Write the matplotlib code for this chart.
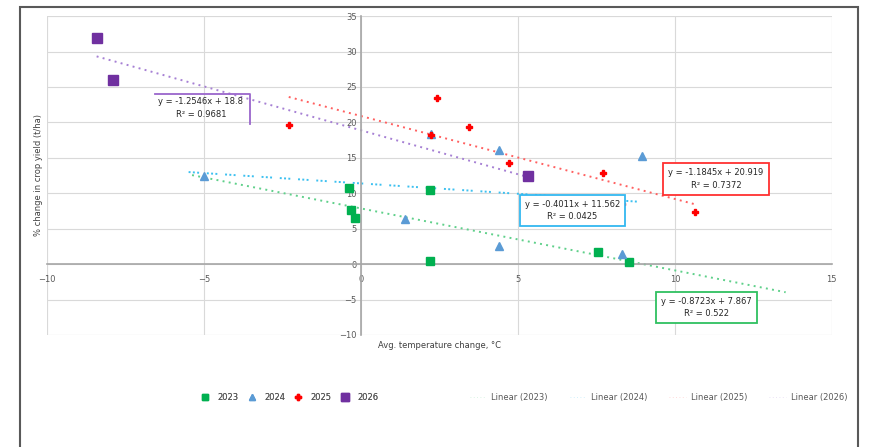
import numpy as np
import matplotlib
matplotlib.use('Agg')
import matplotlib.pyplot as plt
from matplotlib.lines import Line2D
from matplotlib.patches import Rectangle

# Scatter data per year
x_2023 = [-0.38, -0.32, -0.19, 2.19, 2.19, 7.55, 8.53]
y_2023 = [10.7, 7.7, 6.5, 10.5, 0.5, 1.7, 0.3]
x_2024 = [-4.99, 2.22, 4.41, 1.40, 4.41, 8.94, 8.32]
y_2024 = [12.5, 18.3, 16.1, 6.4, 2.6, 15.2, 1.4]
x_2025 = [-2.30, 2.41, 2.22, 3.43, 4.73, 7.71, 8.32, 10.64]
y_2025 = [19.6, 23.4, 18.2, 19.4, 14.3, 12.9, 8.5, 7.4]
x_2026 = [-8.42, -7.91, 5.31]
y_2026 = [31.9, 26.0, 12.4]

years = ['2023', '2024', '2025', '2026']
xs = [x_2023, x_2024, x_2025, x_2026]
ys = [y_2023, y_2024, y_2025, y_2026]

# trendline forecast (backward, forward) in x units
forecast = [(5, 5), (0.5, 0), (0, 0), (0, 0)]

# equation labels as shown on the chart
eq_text = ['y = -0.8723x + 7.867\nR² = 0.522',
           'y = -0.4011x + 11.562\nR² = 0.0425',
           'y = -1.1845x + 20.919\nR² = 0.7372',
           'y = -1.2546x + 18.8\nR² = 0.9681']
eq_pos = [(11.02, -6.1), (6.74, 7.6), (11.31, 12.0), (-5.1, 22.0)]

colors = ['#00b050', '#5b9bd5', '#ff0000', '#7030a0']
trend_colors = ['#5fd08a', '#3cc0f0', '#ff6060', '#a680d4']
box_colors = ['#2fc060', '#33b8f0', '#ff3030', '#9a66cc']
markers = ['s', '^', 'P', 's']
msizes = [6, 5.5, 5, 6.5]

fig = plt.figure(figsize=(8.71, 4.47), dpi=100)
ax = fig.add_axes([0.054, 0.2506, 0.901, 0.7134])

ax.set_xlim(-10, 15)
ax.set_ylim(-10, 35)
ax.set_xticks(np.arange(-10, 16, 5))
ax.set_yticks(np.arange(-10, 36, 5))
ax.grid(True, color='#d9d9d9', lw=0.8)
ax.set_axisbelow(True)

for s in ['top', 'right']:
    ax.spines[s].set_visible(False)
for s in ['left', 'bottom']:
    ax.spines[s].set_position('zero')
    ax.spines[s].set_color('#a6a6a6')
    ax.spines[s].set_linewidth(1.2)
ax.add_patch(Rectangle((0, 0), 1, 1, transform=ax.transAxes, fill=False,
                       edgecolor='#eeeeee', lw=0.8, zorder=0))

ax.tick_params(axis='both', length=0, labelsize=6, labelcolor='#595959')
ax.tick_params(axis='x', pad=7.5)
ax.tick_params(axis='y', pad=3)

for i in range(4):
    x = np.array(xs[i])
    y = np.array(ys[i])
    k, b = np.polyfit(x, y, 1)
    xx = np.array([x.min() - forecast[i][0], x.max() + forecast[i][1]])
    ls = (0, (1, 2.2)) if i != 1 else (0, (1, 1.2, 1, 1.2, 1, 4))
    ax.plot(xx, k * xx + b, color=trend_colors[i], lw=1.4, ls=ls, zorder=2)
    ax.plot(x, y, ls='none', marker=markers[i], ms=msizes[i], color=colors[i],
            mec=colors[i], zorder=3)

for i in range(3):
    ax.text(eq_pos[i][0], eq_pos[i][1], eq_text[i], fontsize=6, color='#262626',
            ha='center', va='center', linespacing=1.5, zorder=4,
            bbox=dict(boxstyle='square,pad=0.6', fc='white', ec=box_colors[i], lw=1.3))
# the 2026 label only shows a top and right edge
ax.text(eq_pos[3][0], eq_pos[3][1], eq_text[3], fontsize=6, color='#262626',
        ha='center', va='center', linespacing=1.5, zorder=4)
ax.plot([-6.55, -3.55, -3.55], [24.0, 24.0, 19.8], color=box_colors[3], lw=1.3, zorder=4)

fig.text(0.505, 0.228, 'Avg. temperature change, °C', fontsize=6, color='#404040',
         ha='center', va='center')
fig.text(0.044, 0.609, '% change in crop yield (t/ha)', fontsize=6, color='#404040',
         ha='center', va='center', rotation=90)

# legends: markers, then trendlines
mk_handles = [Line2D([], [], ls='none', marker=markers[i], ms=msizes[i] - 1,
                     color=colors[i]) for i in range(4)]
leg1 = fig.legend(mk_handles, years, loc='center', bbox_to_anchor=(0.332, 0.11),
                  ncol=4, frameon=False, fontsize=6, labelcolor='#595959',
                  handlelength=1.2, handletextpad=0.9, columnspacing=1.0)
ln_handles = [Line2D([], [], color=trend_colors[i], lw=0.6, ls=(0, (1, 3)), alpha=0.3)
              for i in range(4)]
fig.legend(ln_handles, ['Linear (%s)' % y for y in years], loc='center',
           bbox_to_anchor=(0.756, 0.11), ncol=4, frameon=False, fontsize=6,
           labelcolor='#595959', handlelength=2.0, handletextpad=0.6, columnspacing=2.6)
fig.add_artist(leg1)

# outer chart frame
fig.add_artist(Rectangle((0.023, -0.05), 0.962, 1.034, transform=fig.transFigure,
                         fill=False, edgecolor='#595959', lw=1.5))

fig.savefig('out.png', dpi=100)
